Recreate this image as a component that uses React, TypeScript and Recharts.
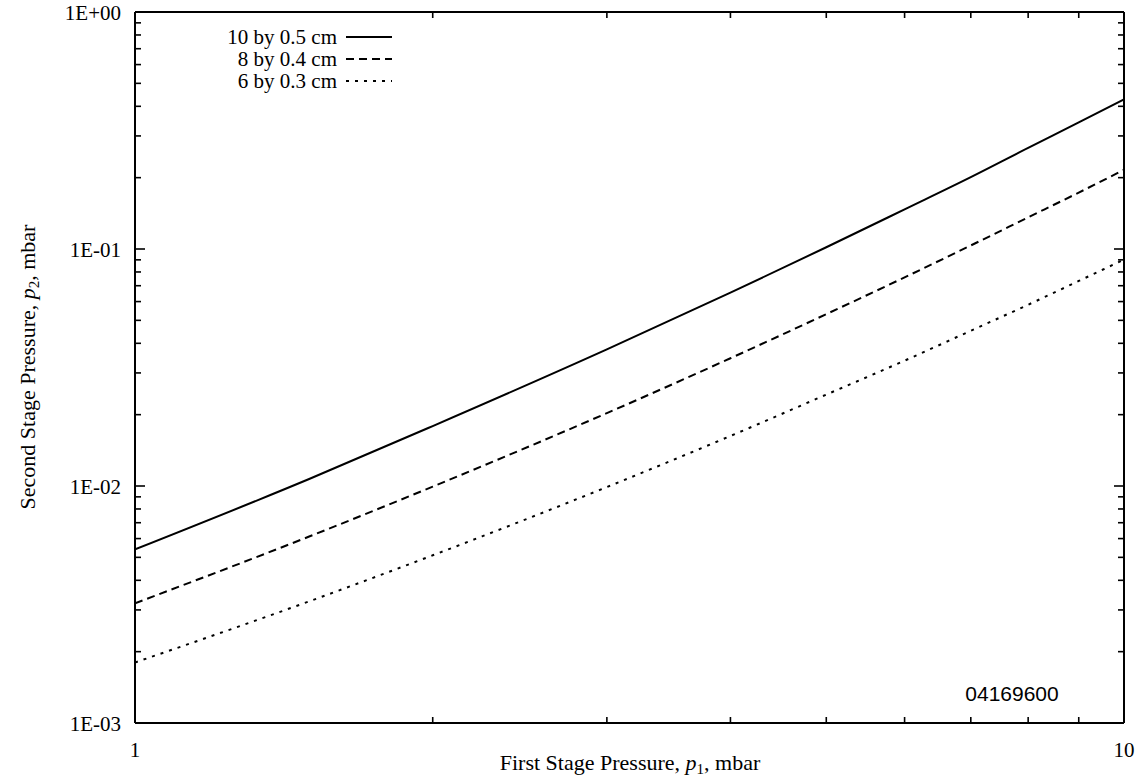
import { LineChart, Line, XAxis, YAxis } from 'recharts'

// first stage pressure p1, mbar
const p1 = [1, 1.5, 2, 3, 4, 5, 6, 7, 8, 9, 10]
// second stage pressure p2, mbar, for each tube size
const tube10x05 = [0.0054, 0.0107, 0.0179, 0.0377, 0.0654, 0.1017, 0.147, 0.201, 0.267, 0.342, 0.428]
const tube8x04 = [0.0032, 0.00612, 0.00994, 0.0203, 0.0346, 0.0531, 0.0759, 0.1035, 0.136, 0.173, 0.216]
const tube6x03 = [0.0018, 0.00326, 0.0051, 0.0099, 0.01626, 0.0243, 0.0338, 0.0452, 0.0582, 0.0733, 0.0902]

const seriesNames = ['10 by 0.5 cm', '8 by 0.4 cm', '6 by 0.3 cm']
const seriesDash = ['', '8 5', '3 6']

const xTicks = [1, 2, 3, 4, 5, 6, 7, 8, 9, 10]
const xLabels: Record<number, string> = { 1: '1', 10: '10' }
const yTicks = [
  0.001, 0.002, 0.003, 0.004, 0.005, 0.006, 0.007, 0.008, 0.009,
  0.01, 0.02, 0.03, 0.04, 0.05, 0.06, 0.07, 0.08, 0.09,
  0.1, 0.2, 0.3, 0.4, 0.5, 0.6, 0.7, 0.8, 0.9, 1,
]
const yLabels: Record<number, string> = { 0.001: '1E-03', 0.01: '1E-02', 0.1: '1E-01', 1: '1E+00' }

const data = p1.map((x, i) => ({
  x,
  a: tube10x05[i],
  b: tube8x04[i],
  c: tube6x03[i],
}))

const FONT = '"Liberation Serif", "Times New Roman", serif'
const W = 1140
const H = 782

// ticks point inwards, labels only on the decades
function XTick(props: any) {
  const { x, y, payload, top } = props
  const v = payload.value
  const major = v in xLabels
  const len = major ? 10 : 6
  return (
    <g>
      <line x1={x} x2={x} y1={y} y2={top ? y + len : y - len} stroke="#000" strokeWidth={1.6} />
      {!top && major && (
        <text x={x} y={y + 34} textAnchor="middle" fontFamily={FONT} fontSize={21} fill="#000">
          {xLabels[v]}
        </text>
      )}
    </g>
  )
}

function YTick(props: any) {
  const { x, y, payload, right } = props
  const v = payload.value
  const label = yLabels[v]
  const len = label ? 10 : 6
  return (
    <g>
      <line x1={x} x2={right ? x - len : x + len} y1={y} y2={y} stroke="#000" strokeWidth={1.6} />
      {!right && label && (
        <text x={x - 14} y={y + 8} textAnchor="end" fontFamily={FONT} fontSize={21} fill="#000">
          {label}
        </text>
      )}
    </g>
  )
}

export default function App() {
  return (
    <div style={{ position: 'absolute', left: 0, top: 0, width: W, height: H, background: '#fff' }}>
      <LineChart width={W} height={H} data={data} margin={{ top: 7, right: 6, bottom: 29, left: 75 }}>
        <XAxis
          xAxisId="bottom"
          dataKey="x"
          type="number"
          scale="log"
          domain={[1, 10]}
          ticks={xTicks}
          interval={0}
          height={30}
          tickSize={0}
          tickMargin={0}
          tickLine={false}
          axisLine={{ stroke: '#000', strokeWidth: 2 }}
          tick={<XTick />}
          allowDataOverflow
        />
        <XAxis
          xAxisId="top"
          orientation="top"
          dataKey="x"
          type="number"
          scale="log"
          domain={[1, 10]}
          ticks={xTicks}
          interval={0}
          height={5}
          tickSize={0}
          tickMargin={0}
          tickLine={false}
          axisLine={{ stroke: '#000', strokeWidth: 2 }}
          tick={<XTick top />}
          allowDataOverflow
        />
        <YAxis
          yAxisId="left"
          type="number"
          scale="log"
          domain={[0.001, 1]}
          ticks={yTicks}
          interval={0}
          width={60}
          tickSize={0}
          tickMargin={0}
          tickLine={false}
          axisLine={{ stroke: '#000', strokeWidth: 2 }}
          tick={<YTick />}
          allowDataOverflow
        />
        <YAxis
          yAxisId="right"
          orientation="right"
          type="number"
          scale="log"
          domain={[0.001, 1]}
          ticks={yTicks}
          interval={0}
          width={10}
          tickSize={0}
          tickMargin={0}
          tickLine={false}
          axisLine={{ stroke: '#000', strokeWidth: 2 }}
          tick={<YTick right />}
          allowDataOverflow
        />
        {(['a', 'b', 'c'] as const).map((k, i) => (
          <Line
            key={k}
            xAxisId="bottom"
            yAxisId="left"
            dataKey={k}
            name={seriesNames[i]}
            type="monotone"
            stroke="#000"
            strokeWidth={2}
            strokeDasharray={seriesDash[i] || undefined}
            dot={false}
            isAnimationActive={false}
          />
        ))}
      </LineChart>

      {/* titles, legend and the figure number on top of the chart */}
      <svg width={W} height={H} style={{ position: 'absolute', left: 0, top: 0, pointerEvents: 'none' }}>
        <text x={630} y={770} textAnchor="middle" fontFamily={FONT} fontSize={22} fill="#000">
          First Stage Pressure, <tspan fontStyle="italic">p</tspan>
          <tspan fontSize={15} dy={4}>1</tspan>
          <tspan dy={-4}>, mbar</tspan>
        </text>
        <text
          transform="translate(35 367) rotate(-90)"
          textAnchor="middle"
          fontFamily={FONT}
          fontSize={22}
          fill="#000"
        >
          Second Stage Pressure, <tspan fontStyle="italic">p</tspan>
          <tspan fontSize={15} dy={4}>2</tspan>
          <tspan dy={-4}>, mbar</tspan>
        </text>
        {seriesNames.map((name, i) => (
          <g key={name}>
            <text x={337} y={44 + i * 22} textAnchor="end" fontFamily={FONT} fontSize={21} fill="#000">
              {name}
            </text>
            <line
              x1={346}
              x2={392}
              y1={37 + i * 22}
              y2={37 + i * 22}
              stroke="#000"
              strokeWidth={2}
              strokeDasharray={seriesDash[i] || undefined}
            />
          </g>
        ))}
        <text x={1012} y={701} textAnchor="middle" fontFamily='"Liberation Sans", Arial, sans-serif' fontSize={21} fill="#000">
          04169600
        </text>
      </svg>
    </div>
  )
}
